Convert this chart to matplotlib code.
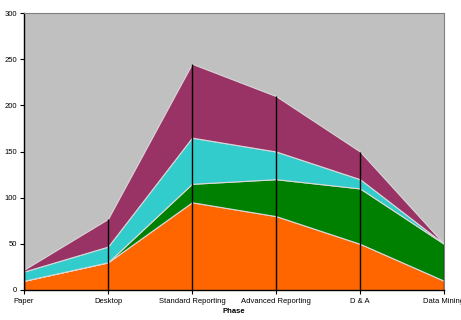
import matplotlib
matplotlib.use("Agg")
import matplotlib.pyplot as plt
import numpy as np

plt.rcParams["font.family"] = ["Liberation Sans", "DejaVu Sans"]

fases = ["Paper", "Desktop", "Standard Reporting", "Advanced Reporting", "D & A", "Data Mining"]
laranja = [10, 30, 95, 80, 50, 10]
verde = [0, 0, 20, 40, 60, 40]
ciano = [10, 17, 50, 30, 10, 0]
roxo = [2, 30, 80, 60, 30, 0]

cores = ["#FF6600", "#008000", "#33CCCC", "#993366"]

fig = plt.figure(figsize=(4.61, 3.2), dpi=100)
ax = fig.add_axes([24 / 461, 30 / 320, 420 / 461, 277 / 320])
ax.set_facecolor("#C0C0C0")

x = np.arange(len(fases))
ax.stackplot(x, laranja, verde, ciano, roxo, colors=cores,
             edgecolor="#D8D8D8", linewidth=0.8)

# linhas verticais ate o topo da pilha
topo = np.sum([laranja, verde, ciano, roxo], axis=0)
ax.vlines(x, 0, topo, colors="black", linewidth=1.0, zorder=3)

ax.set_xlim(0, len(fases) - 1)
ax.set_ylim(0, 300)
ax.set_yticks(range(0, 301, 50))
ax.set_xticks(x)
ax.set_xticklabels(fases)
ax.tick_params(axis="both", labelsize=5.5, length=3, width=0.8, pad=2)
ax.tick_params(axis="x", pad=3)

for lado in ["left", "bottom"]:
    ax.spines[lado].set_color("black")
    ax.spines[lado].set_linewidth(1.0)
for lado in ["top", "right"]:
    ax.spines[lado].set_color("#808080")
    ax.spines[lado].set_linewidth(0.8)

ax.set_xlabel("Phase", fontsize=5.5, fontweight="bold", labelpad=2)

fig.savefig("out.png", dpi=100)
plt.close(fig)
